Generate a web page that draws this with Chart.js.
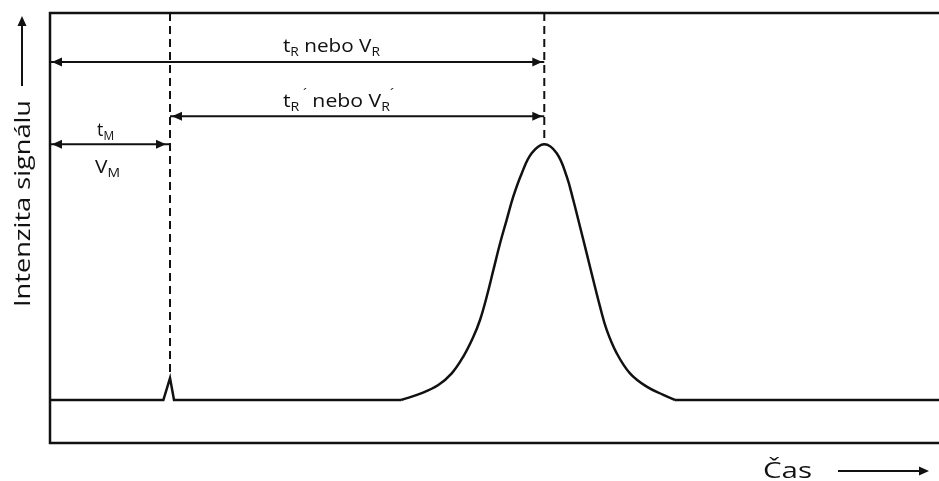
<!DOCTYPE html>
<html>
<head>
<meta charset="utf-8">
<script src="https://cdn.jsdelivr.net/npm/chart.js@4.4.1/dist/chart.umd.min.js"></script>
<style>
  body { margin: 0; background: #fff; }
  #wrap { width: 939px; height: 481px; position: relative; }
</style>
</head>
<body>
<div id="wrap"><canvas id="chromatogram"></canvas></div>
<script>
// baseline with the dead-time spike (time 0-100, intensity 0-100); null = gap under the main peak
const baseTimes  = [0, 12.75, 13.5, 13.95, 39.5, 50, 70.3, 100];
const baseValues = [10, 10, 15.1, 10, 10, null, 10, 10];

// the analyte peak
const peakTimes  = [39.5, 41.81, 43.68, 45.19, 46.49, 47.62, 48.37, 49.12, 49.87, 50.62, 51.37, 52.11, 53.06, 54.18, 55.6,
                    57.0, 58.12, 58.86, 59.62, 60.37, 61.11, 61.87, 62.62, 63.74, 65.24, 67.12, 68.99, 70.3];
const peakValues = [10, 11.6, 13.5, 16.2, 20.1, 24.7, 28.6, 34.0, 40.2, 46.4, 51.9, 57.3, 62.7, 67.4, 69.5,
                    67.4, 62.0, 56.5, 50.3, 44.1, 37.9, 31.7, 26.3, 20.9, 16.2, 13.1, 11.2, 10];

// marker times and peak heights
const deadTime = 13.5;       // t_M
const retentionTime = 55.6;  // t_R
const deadPeakTop = 15.1;
const mainPeakTop = 69.5;

// levels of the three dimension arrows
const arrowLevels = [88.6, 76.0, 69.5];

const ink = '#111';
const F = '"Open Sans", sans-serif';

const frameAndNotes = {
    id: 'frameAndNotes',
    beforeDatasetsDraw(chart) {
        const { ctx, chartArea: a } = chart;
        ctx.save();
        ctx.strokeStyle = ink;
        ctx.lineWidth = 2.5;
        ctx.beginPath();
        ctx.moveTo(a.right, a.top);
        ctx.lineTo(a.left, a.top);
        ctx.lineTo(a.left, a.bottom);
        ctx.lineTo(a.right, a.bottom);
        ctx.stroke();
        ctx.restore();
    },
    afterDatasetsDraw(chart) {
        const { ctx } = chart;
        const xs = chart.scales.x, ys = chart.scales.y;

        // arrow heads on the dimension lines
        chart.data.datasets.forEach((ds, i) => {
            if (!ds.arrow) return;
            const pts = chart.getDatasetMeta(i).data;
            const p0 = pts[0], p1 = pts[pts.length - 1];
            head(ctx, p0.x + ds.inset[0], p0.y, -1);
            head(ctx, p1.x - ds.inset[1], p1.y, 1);
        });

        ctx.save();
        ctx.fillStyle = ink;
        ctx.textBaseline = 'alphabetic';

        const x1 = xs.getPixelForValue(26.2);
        richText(ctx, x1, ys.getPixelForValue(arrowLevels[0]) - 10, 97, [
            ['t', 18], ['R', 12, 4], [' nebo V', 18], ['R', 12, 4]
        ]);
        richText(ctx, x1, ys.getPixelForValue(arrowLevels[1]) - 9, 111, [
            ['t', 18], ['R', 12, 4], [' ´', 12, -9], [' nebo V', 18], ['R', 12, 4], ['´', 12, -9]
        ]);
        const x3 = xs.getPixelForValue(5.3);
        richText(ctx, x3, ys.getPixelForValue(arrowLevels[2]) - 8, 17, [
            ['t', 18], ['M', 12, 4]
        ]);
        richText(ctx, x3 - 2, ys.getPixelForValue(arrowLevels[2]) + 29, 25, [
            ['V', 18], ['M', 12, 4]
        ]);

        // axis titles with their arrows
        ctx.font = '22px ' + F;
        fitText(ctx, 'Intenzita signálu', 30, 307, 207, -Math.PI / 2);
        fitText(ctx, 'Čas', 763, 478, 49, 0);

        ctx.strokeStyle = ink;
        ctx.lineWidth = 2;
        ctx.beginPath();
        ctx.moveTo(22, 86); ctx.lineTo(22, 24);
        ctx.moveTo(838, 471); ctx.lineTo(922, 471);
        ctx.stroke();
        ctx.beginPath();
        ctx.moveTo(22, 16); ctx.lineTo(17.5, 26); ctx.lineTo(26.5, 26); ctx.closePath();
        ctx.moveTo(929, 471); ctx.lineTo(919, 466.5); ctx.lineTo(919, 475.5); ctx.closePath();
        ctx.fill();
        ctx.restore();
    }
};

function head(ctx, x, y, dir) {
    ctx.save();
    ctx.fillStyle = ink;
    ctx.beginPath();
    ctx.moveTo(x, y);
    ctx.lineTo(x - dir * 10, y - 4.5);
    ctx.lineTo(x - dir * 10, y + 4.5);
    ctx.closePath();
    ctx.fill();
    ctx.restore();
}

// text with sub/superscripts, stretched to the width it has in the picture
function richText(ctx, x, y, width, parts) {
    let total = 0;
    parts.forEach(([txt, size]) => {
        ctx.font = size + 'px ' + F;
        total += ctx.measureText(txt).width;
    });
    ctx.save();
    ctx.translate(x, y);
    ctx.scale(width / total, 1);
    let cx = 0;
    parts.forEach(([txt, size, dy]) => {
        ctx.font = size + 'px ' + F;
        ctx.fillText(txt, cx, dy || 0);
        cx += ctx.measureText(txt).width;
    });
    ctx.restore();
}

function fitText(ctx, txt, x, y, width, rot) {
    const w = ctx.measureText(txt).width;
    ctx.save();
    ctx.translate(x, y);
    ctx.rotate(rot);
    ctx.scale(width / w, 1);
    ctx.fillText(txt, 0, 0);
    ctx.restore();
}

function dimension(from, to, level, inset) {
    return {
        data: [{ x: from, y: level }, { x: to, y: level }],
        borderColor: ink, borderWidth: 2, pointRadius: 0, tension: 0,
        arrow: true, inset: inset
    };
}

function marker(t, top) {
    return {
        data: [{ x: t, y: 100 }, { x: t, y: top }],
        borderColor: ink, borderWidth: 2, borderDash: [8, 5], pointRadius: 0, tension: 0
    };
}

document.addEventListener('DOMContentLoaded', function () {
    const ctx = document.getElementById('chromatogram');

    new Chart(ctx, {
        type: 'line',
        data: {
            datasets: [
                {
                    label: 'Základní linie',
                    data: baseTimes.map((t, i) => ({ x: t, y: baseValues[i] })),
                    borderColor: ink,
                    borderWidth: 2.5,
                    pointRadius: 0,
                    tension: 0,
                    spanGaps: false
                },
                {
                    label: 'Pík',
                    data: peakTimes.map((t, i) => ({ x: t, y: peakValues[i] })),
                    borderColor: ink,
                    borderWidth: 2.5,
                    pointRadius: 0,
                    tension: 0.4
                },
                marker(deadTime, deadPeakTop),
                marker(retentionTime, mainPeakTop),
                dimension(0, retentionTime, arrowLevels[0], [2, 2]),
                dimension(deadTime, retentionTime, arrowLevels[1], [2, 2]),
                dimension(0, deadTime, arrowLevels[2], [2, 4])
            ]
        },
        options: {
            responsive: true,
            maintainAspectRatio: false,
            animation: false,
            layout: { padding: { left: 50, top: 13, right: 0, bottom: 38 } },
            scales: {
                x: { type: 'linear', min: 0, max: 100, display: false },
                y: { min: 0, max: 100, display: false }
            },
            plugins: {
                legend: { display: false },
                tooltip: { enabled: false }
            }
        },
        plugins: [frameAndNotes]
    });
});
</script>
</body>
</html>
